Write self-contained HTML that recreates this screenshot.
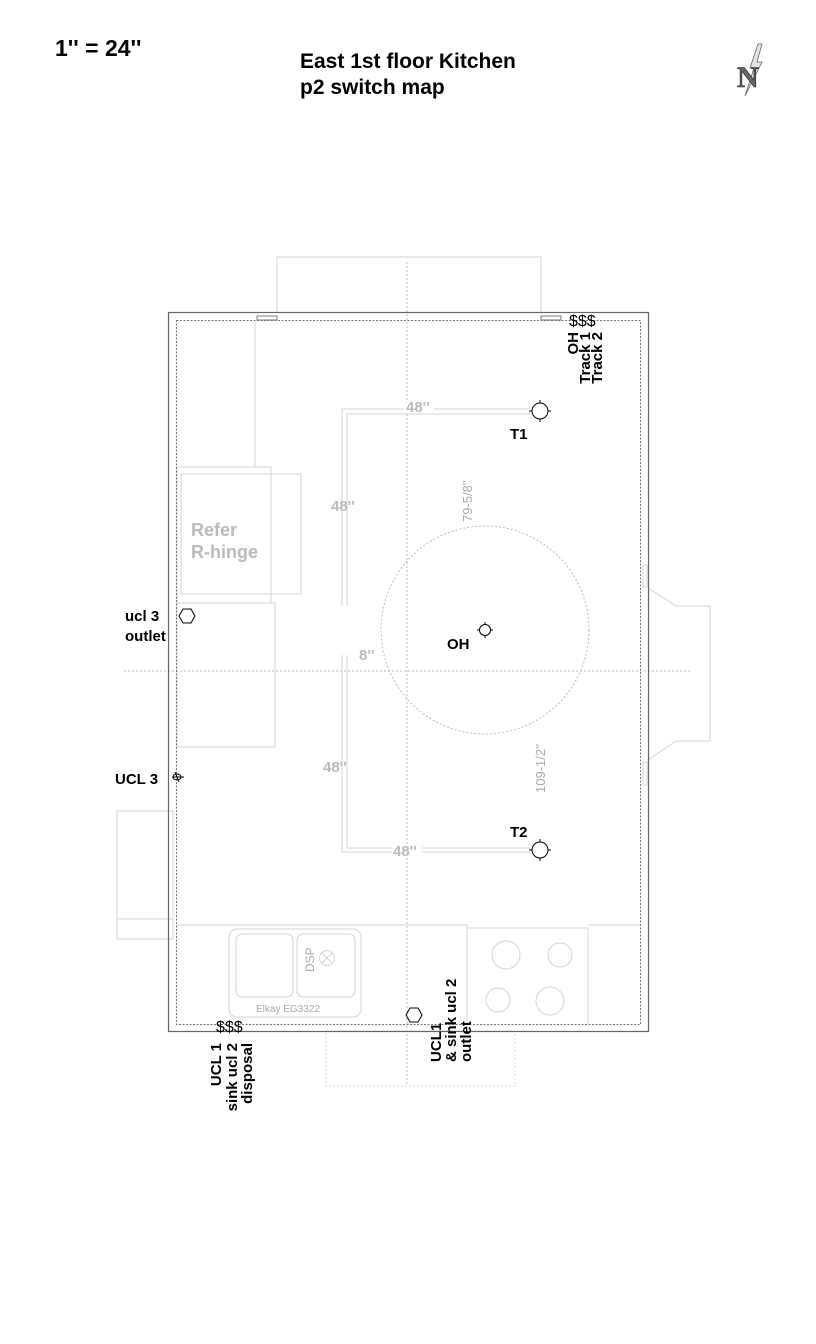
<!DOCTYPE html>
<html><head><meta charset="utf-8"><style>
html,body{margin:0;padding:0;background:#fff;}
svg{display:block;}
text{font-family:"Liberation Sans",Arial,sans-serif;}
</style></head><body>
<svg width="816" height="1344" viewBox="0 0 816 1344" xmlns="http://www.w3.org/2000/svg">
<rect width="816" height="1344" fill="#fff"/>
<text x="55" y="56" font-size="23" font-weight="bold">1'' = 24''</text>
<text x="300" y="68" font-size="21" font-weight="bold">East 1st floor Kitchen</text>
<text x="300" y="94" font-size="21" font-weight="bold">p2 switch map</text>
<polygon points="758,44 750,68 754,68 745,96 762,62 757,62 762,44" fill="#e4e4e4" stroke="#666" stroke-width="0.8"/>
<text x="737" y="87" style="font-family:'Liberation Serif',serif" font-size="30" font-weight="bold" fill="#666" stroke="#222" stroke-width="0.6">N</text>

<g fill="none" stroke="#d4d4d4" stroke-width="1">
<path d="M277,312 V257 H541 V312"/>
<rect x="326" y="1031" width="189" height="55" stroke-dasharray="2,2"/>
<line x1="255" y1="320" x2="255" y2="467"/>
<rect x="177" y="467" width="94" height="136"/>
<rect x="181" y="474" width="120" height="120"/>
<rect x="177" y="603" width="98" height="144"/>
<rect x="117" y="811" width="56" height="128"/>
<line x1="117" y1="919" x2="173" y2="919"/>
<rect x="643" y="565" width="4" height="22"/>
<rect x="643" y="762" width="4" height="23"/>
<path d="M648,588 L676,606 H710 V741 H676 L648,760"/>
<path d="M176,925 H467 V1024"/>
<path d="M467,928 H588 V1024"/>
<line x1="588" y1="925" x2="640" y2="925"/>
<rect x="229" y="929" width="132" height="88" rx="8"/>
<rect x="236" y="934" width="57" height="63" rx="6"/>
<rect x="297" y="934" width="58" height="63" rx="6"/>
<circle cx="327" cy="958" r="7.5"/>
<path d="M322,953 L332,963 M332,953 L322,963"/>
<circle cx="506" cy="955" r="14"/>
<circle cx="560" cy="955" r="12"/>
<circle cx="498" cy="1000" r="12"/>
<circle cx="550" cy="1001" r="14"/>
<path d="M342,606 V409 H530 M347,606 V414 H530"/>
<path d="M342,655 V852 H530 M347,655 V848 H530"/>
</g>
<g fill="none" stroke="#bbb" stroke-width="1" stroke-dasharray="2,2">
<line x1="407" y1="262" x2="407" y2="1085"/>
<line x1="124" y1="671" x2="690" y2="671"/>
<circle cx="485" cy="630" r="104"/>
</g>
<rect x="168.5" y="312.5" width="480" height="719" fill="none" stroke="#666" stroke-width="1.2"/>
<rect x="176.5" y="320.5" width="464" height="704" fill="none" stroke="#777" stroke-width="1" stroke-dasharray="2,1.5"/>
<rect x="257" y="316" width="20" height="4" fill="#fff" stroke="#777"/>
<rect x="541" y="316" width="20" height="4" fill="#fff" stroke="#777"/>

<g fill="#bbb" font-weight="bold" font-size="15">
<rect x="404" y="400" width="30" height="13" fill="#fff"/>
<text x="406" y="412">48''</text>
<text x="331" y="511">48''</text>
<text x="359" y="660">8''</text>
<text x="323" y="772">48''</text>
<rect x="392" y="845" width="30" height="12" fill="#fff"/>
<text x="393" y="856">48''</text>
<text x="191" y="536" font-size="18">Refer</text>
<text x="191" y="558" font-size="18">R-hinge</text>
</g>
<g fill="#aaa" font-size="13">
<text transform="translate(472,522) rotate(-90)">79-5/8''</text>
<text transform="translate(545,793) rotate(-90)">109-1/2''</text>
<text transform="translate(314,972) rotate(-90)" font-size="12">DSP</text>
<text x="256" y="1012" font-size="10">Elkay EG3322</text>
</g>

<g fill="none" stroke="#000" stroke-width="1">
<circle cx="540" cy="411" r="8"/><path d="M540,400 v3 M540,419 v3 M529,411 h3 M548,411 h3"/>
<circle cx="540" cy="850" r="8"/><path d="M540,839 v3 M540,858 v3 M529,850 h3 M548,850 h3"/>
<circle cx="485" cy="630" r="5.5"/><path d="M485,622 v3 M485,635 v3 M477,630 h3 M490,630 h3"/>
<polygon points="183,609 191,609 195,616 191,623 183,623 179,616"/>
<polygon points="410,1008 418,1008 422,1015 418,1022 410,1022 406,1015"/>
<ellipse cx="177" cy="777" rx="4" ry="3"/><path d="M172,777 h12 M175,772 L179,782"/>
</g>
<g font-weight="bold" font-size="15" fill="#000">
<text x="510" y="439">T1</text>
<text x="510" y="837">T2</text>
<text x="447" y="649">OH</text>
<text x="125" y="621">ucl 3</text>
<text x="125" y="641">outlet</text>
<text x="115" y="784">UCL 3</text>
<text transform="translate(578,332) rotate(-90)" text-anchor="end">OH</text>
<text transform="translate(590,332) rotate(-90)" text-anchor="end">Track 1</text>
<text transform="translate(602,332) rotate(-90)" text-anchor="end">Track 2</text>
<text transform="translate(221,1043) rotate(-90)" text-anchor="end">UCL 1</text>
<text transform="translate(237,1043) rotate(-90)" text-anchor="end">sink ucl 2</text>
<text transform="translate(252,1043) rotate(-90)" text-anchor="end">disposal</text>
<text transform="translate(441,1062) rotate(-90)">UCL1</text>
<text transform="translate(456,1062) rotate(-90)">&amp; sink ucl 2</text>
<text transform="translate(471,1062) rotate(-90)">outlet</text>
</g>
<g font-size="16" fill="#000">
<text x="569" y="326">$$$</text>
<text x="216" y="1032">$$$</text>
</g>
</svg>
</body></html>
